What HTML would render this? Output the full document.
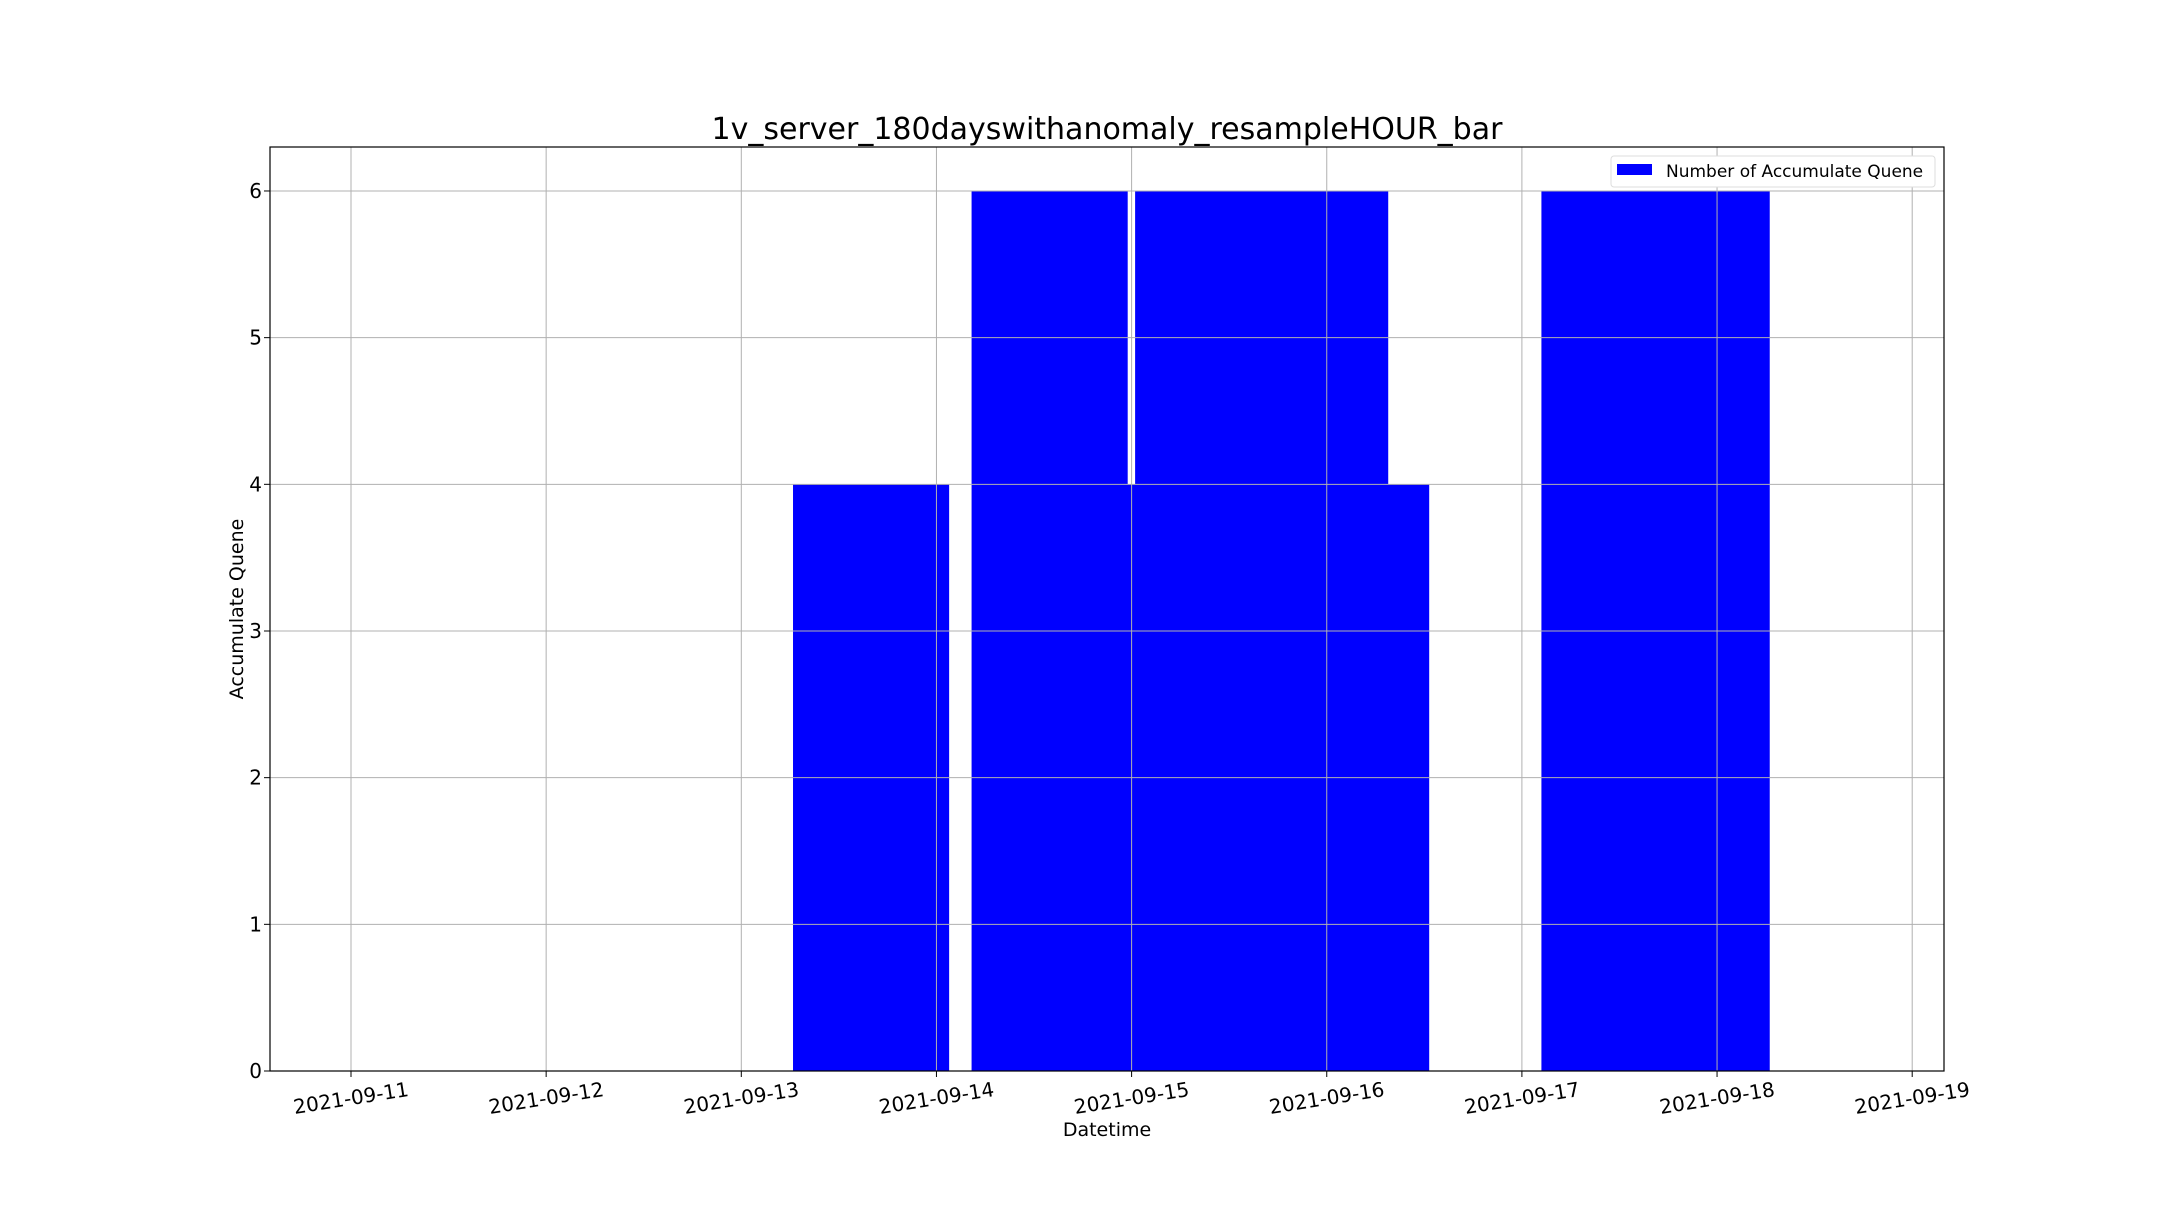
<!DOCTYPE html>
<html><head><meta charset="utf-8"><style>
body{margin:0;background:#fff}
svg text{font-family:"DejaVu Sans","Liberation Sans",sans-serif;fill:#000}
</style></head><body>
<svg id="chart" width="2160" height="1224" xmlns="http://www.w3.org/2000/svg">
<rect width="2160" height="1224" fill="#fff"/>
<g id="bars"></g><g id="grid"></g><g id="axes"></g>
<text x="1107" y="139" font-size="30" text-anchor="middle">1v_server_180dayswithanomaly_resampleHOUR_bar</text>
<text x="1107" y="1136" font-size="19" text-anchor="middle">Datetime</text>
<text x="0" y="0" font-size="19" text-anchor="middle" transform="translate(243,609) rotate(-90)">Accumulate Quene</text>
<g>
<rect x="1611" y="156" width="324" height="31" fill="#fff" stroke="#ddd" rx="3"/>
<rect x="1617" y="164" width="35" height="11" fill="#0000ff"/>
<text x="1666" y="177" font-size="17">Number of Accumulate Quene</text>
</g>
</svg>
<script>
// bar start offsets in days from 2021-09-11, bar values
const barStarts=[2.265,3.18,3.25,4.018,4.515,4.725,6.10,6.47];
const barValues=[4,6,4,6,6,4,6,6];
const barWidth=0.8;
const xTickLabels=["2021-09-11","2021-09-12","2021-09-13","2021-09-14","2021-09-15","2021-09-16","2021-09-17","2021-09-18","2021-09-19"];
const yTicks=[0,1,2,3,4,5,6];
const L=270,R=1944,T=147,B=1071;
const x=d=>351+d*195.15;
const y=v=>B-v*146.67;
const ns="http://www.w3.org/2000/svg";
function mk(t,a,p){const e=document.createElementNS(ns,t);for(const k in a)e.setAttribute(k,a[k]);p.appendChild(e);return e;}
const grid=document.getElementById('grid'),bars=document.getElementById('bars'),axes=document.getElementById('axes');
xTickLabels.forEach((lab,i)=>{
 const g=mk('line',{x1:x(i),x2:x(i),y1:T,y2:B,stroke:'#b0b0b0','stroke-width':1},grid);
 
 
 mk('line',{x1:x(i),x2:x(i),y1:B,y2:B+6,stroke:'#000'},axes);
 const t=mk('text',{x:x(i),y:1105,'font-size':20,'text-anchor':'middle',transform:`rotate(-9 ${x(i)} 1098)`},axes);
 t.textContent=lab;
 
 
});
yTicks.forEach(v=>{
 const g=mk('line',{x1:L,x2:R,y1:y(v),y2:y(v),stroke:'#b0b0b0','stroke-width':1},grid);
 
 
 mk('line',{x1:L-6,x2:L,y1:y(v),y2:y(v),stroke:'#000'},axes);
 const t=mk('text',{x:L-8,y:y(v)+7,'font-size':20,'text-anchor':'end'},axes);
 t.textContent=v;
 
 
});
barStarts.forEach((s,i)=>{
 const r=mk('rect',{x:x(s),y:y(barValues[i]),width:x(s+barWidth)-x(s),height:B-y(barValues[i]),fill:'#0000ff'},bars);
 
 
});
const f=mk('rect',{x:L,y:T,width:R-L,height:B-T,fill:'none',stroke:'#000','stroke-width':1.2},axes);


</script>
</body></html>
